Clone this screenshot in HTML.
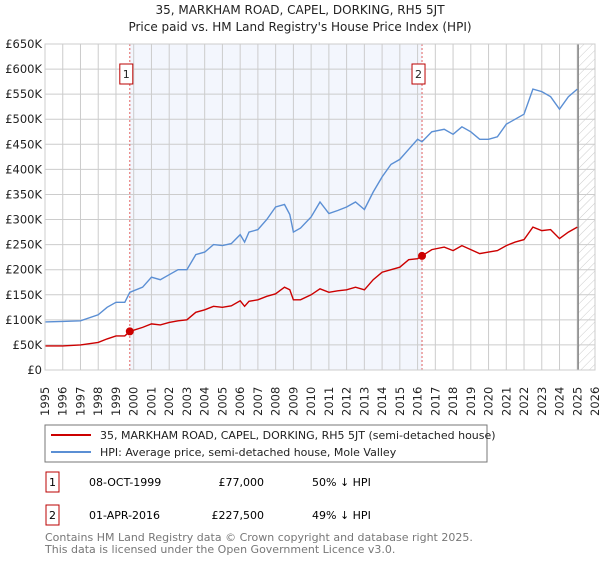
<!DOCTYPE html>
<html><head><meta charset="utf-8"><style>
body{margin:0;background:#fff;font-family:"DejaVu Sans","Liberation Sans",sans-serif;}
svg text{font-family:"DejaVu Sans","Liberation Sans",sans-serif;}
</style></head><body>
<svg id="c" width="600" height="560">
<defs><pattern id="hatch" width="6" height="6" patternUnits="userSpaceOnUse" patternTransform="rotate(45)"><line x1="0" y1="0" x2="0" y2="6" stroke="#ccc" stroke-width="1"/></pattern></defs>
<text x="300" y="14" text-anchor="middle" font-size="12" fill="#222">35, MARKHAM ROAD, CAPEL, DORKING, RH5 5JT</text>
<text x="300" y="31" text-anchor="middle" font-size="12" fill="#222">Price paid vs. HM Land Registry's House Price Index (HPI)</text>
<g id="plot"></g>
<rect x="45" y="425" width="442" height="37" fill="#fff" stroke="#777"/>
<line x1="51" y1="435" x2="91" y2="435" stroke="#cc0000" stroke-width="2"/>
<text x="100" y="439" font-size="11" fill="#222">35, MARKHAM ROAD, CAPEL, DORKING, RH5 5JT (semi-detached house)</text>
<line x1="51" y1="452" x2="91" y2="452" stroke="#5b8fd4" stroke-width="2"/>
<text x="100" y="456" font-size="11" fill="#222">HPI: Average price, semi-detached house, Mole Valley</text>
<g>
<rect x="46" y="472" width="13" height="20" fill="#fff" stroke="#b00"/><text x="52.5" y="486" text-anchor="middle" font-size="11">1</text>
<text x="89" y="486" font-size="11">08-OCT-1999</text><text x="264" y="486" text-anchor="end" font-size="11">£77,000</text><text x="312" y="486" font-size="11">50% ↓ HPI</text></g>
<g>
<rect x="46" y="505" width="13" height="20" fill="#fff" stroke="#b00"/><text x="52.5" y="519" text-anchor="middle" font-size="11">2</text>
<text x="89" y="519" font-size="11">01-APR-2016</text><text x="264" y="519" text-anchor="end" font-size="11">£227,500</text><text x="312" y="519" font-size="11">49% ↓ HPI</text></g>
<text x="45" y="541" font-size="11" fill="#777">Contains HM Land Registry data © Crown copyright and database right 2025.</text>
<text x="45" y="553" font-size="11" fill="#777">This data is licensed under the Open Government Licence v3.0.</text>
</svg>
<script>
const years=[1995,1996,1997,1998,1998.5,1999,1999.5,1999.78,2000.5,2001,2001.5,2002,2002.5,2003,2003.5,2004,2004.5,2005,2005.5,2006,2006.25,2006.5,2007,2007.5,2008,2008.5,2008.8,2009,2009.4,2010,2010.5,2011,2011.5,2012,2012.5,2013,2013.5,2014,2014.5,2015,2015.5,2016,2016.25,2016.8,2017.5,2018,2018.5,2019,2019.5,2020,2020.5,2021,2021.5,2022,2022.5,2023,2023.5,2024,2024.5,2025];
const hpi=[96,97,98,110,125,135,135,155,165,185,180,190,200,200,230,235,250,248,252,270,255,275,280,300,325,330,310,275,283,305,335,312,318,325,335,320,355,385,410,420,440,460,455,475,480,470,485,475,460,460,465,490,500,510,560,555,545,520,545,560];
const price=[48,48,50,55,62,68,68,77,85,92,90,95,98,100,115,120,127,125,128,138,127,137,140,147,152,165,160,140,140,150,162,155,158,160,165,160,180,195,200,205,220,222,227.5,240,245,238,248,240,232,235,238,248,255,260,285,278,280,262,275,285];
const yTicks=[0,50,100,150,200,250,300,350,400,450,500,550,600,650];
const yTickLabels=["£0","£50K","£100K","£150K","£200K","£250K","£300K","£350K","£400K","£450K","£500K","£550K","£600K","£650K"];
const xTicks=[1995,1996,1997,1998,1999,2000,2001,2002,2003,2004,2005,2006,2007,2008,2009,2010,2011,2012,2013,2014,2015,2016,2017,2018,2019,2020,2021,2022,2023,2024,2025,2026];
const sales=[{label:"1",year:1999.78,value:77},{label:"2",year:2016.25,value:227.5}];
const X0=45,X1=595,Y0=370,Y1=44;
const xs=v=>X0+(v-1995)/31*(X1-X0), ys=v=>Y0-v/650*(Y0-Y1);
const g=document.getElementById('plot'),NS="http://www.w3.org/2000/svg";
function mk(t,a,p){const e=document.createElementNS(NS,t);for(const k in a)e.setAttribute(k,a[k]);(p||g).appendChild(e);return e;}
let r=mk('rect',{x:X0,y:Y1,width:X1-X0,height:Y0-Y1,fill:'#fff'});


r=mk('rect',{x:xs(sales[0].year),y:Y1,width:xs(sales[1].year)-xs(sales[0].year),height:Y0-Y1,fill:'#f3f6fd'});


r=mk('rect',{x:xs(2025.05),y:Y1,width:X1-xs(2025.05),height:Y0-Y1,fill:'url(#hatch)'});


yTicks.forEach((v,i)=>{
 let l=mk('line',{x1:X0,x2:X1,y1:ys(v),y2:ys(v),stroke:'#ccc'});
 
 
 let t=mk('text',{x:X0-3,y:ys(v)+4,'text-anchor':'end','font-size':'11.5',fill:'#222'});t.textContent=yTickLabels[i];
 
 
});
xTicks.forEach(v=>{
 let l=mk('line',{x1:xs(v),x2:xs(v),y1:Y1,y2:Y0,stroke:'#ccc'});
 
 
 let t=mk('text',{x:0,y:0,transform:`translate(${xs(v)+4},${Y0+46}) rotate(-90)`,'font-size':'11.5',fill:'#222'});t.textContent=v;
 
 
});
r=mk('line',{x1:xs(2025.05),x2:xs(2025.05),y1:Y1,y2:Y0,stroke:'#888','stroke-width':1.5});


sales.forEach(s=>{
 let l=mk('line',{x1:xs(s.year),x2:xs(s.year),y1:Y1,y2:Y0,stroke:'#e06060','stroke-dasharray':'2,2'});
 
 
});
const path=(arr,c,n)=>{let p=mk('path',{d:arr.map((v,i)=>(i?'L':'M')+xs(years[i]).toFixed(1)+','+ys(v).toFixed(1)).join(''),fill:'none',stroke:c,'stroke-width':1.4});
 
 };
path(hpi,'#5b8fd4','hpi-line');
path(price,'#cc0000','price-line');
sales.forEach(s=>{
 let c=mk('circle',{cx:xs(s.year),cy:ys(s.value),r:4,fill:'#cc0000'});
 
 
 let b=mk('rect',{x:xs(s.year)-10,y:64,width:13,height:20,fill:'#fff',stroke:'#b00'});
 
 
 let t=mk('text',{x:xs(s.year)-3.5,y:78,'text-anchor':'middle','font-size':'11',fill:'#222'});t.textContent=s.label;
 
 
});
r=mk('rect',{x:X0,y:Y1,width:X1-X0,height:Y0-Y1,fill:'none',stroke:'#ccc'});


</script>
</body></html>
